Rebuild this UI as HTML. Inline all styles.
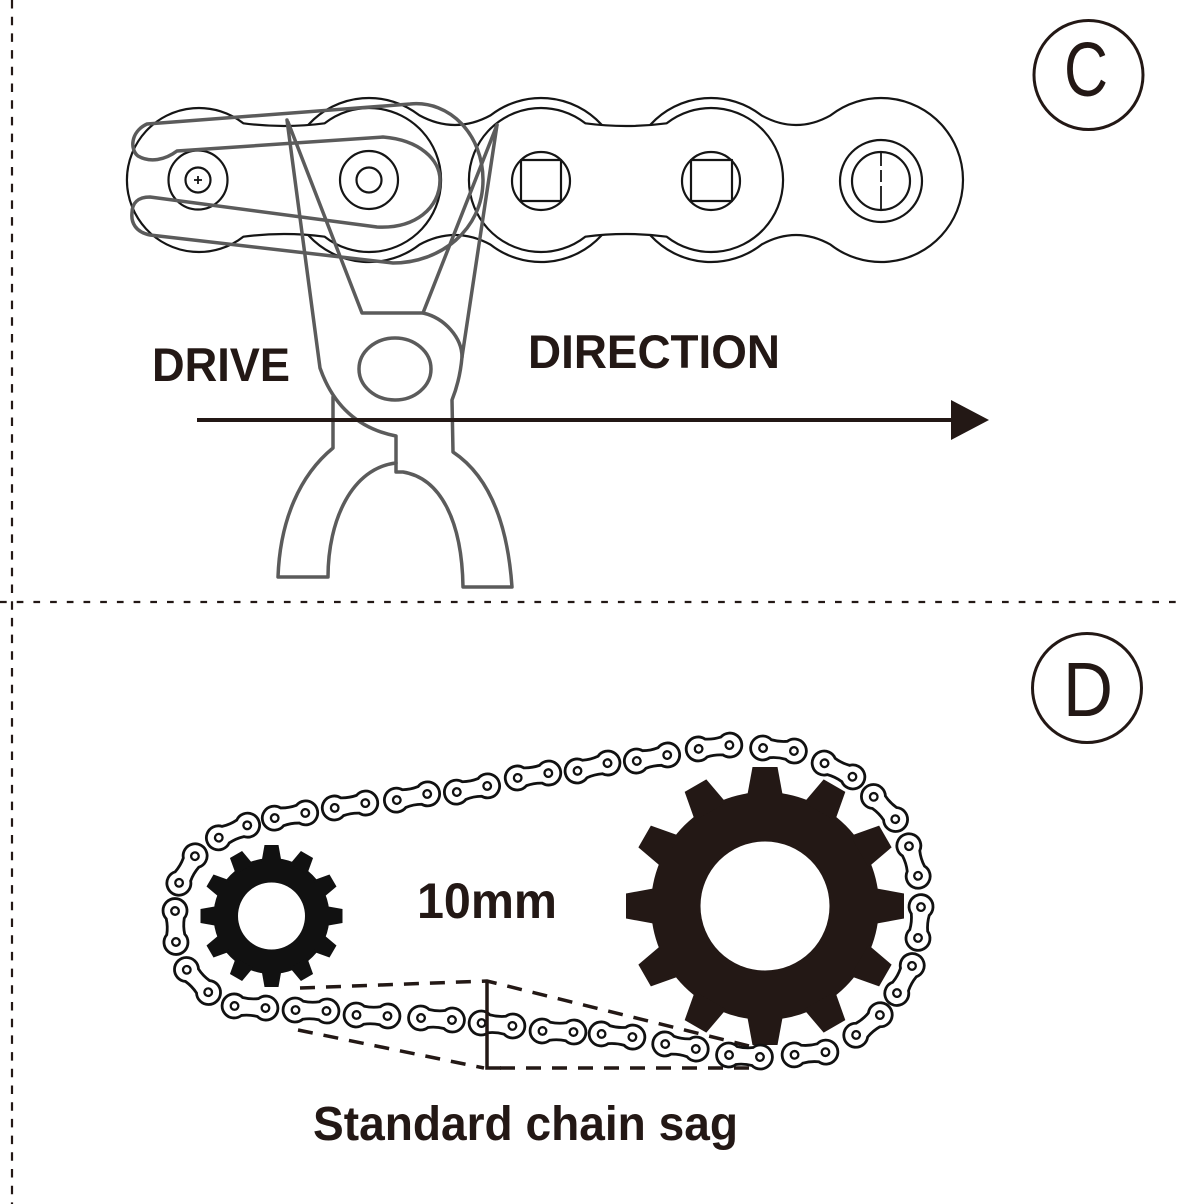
<!DOCTYPE html>
<html>
<head>
<meta charset="utf-8">
<style>
  html,body{margin:0;padding:0;background:#fff;}
  svg{display:block;}
  .t{font-family:"Liberation Sans", Arial, sans-serif;fill:#231815;}
</style>
</head>
<body>
<svg width="1182" height="1204" viewBox="0 0 1182 1204" xmlns="http://www.w3.org/2000/svg">
  <rect width="1182" height="1204" fill="#fff"/>

  <!-- dashed separators -->
  <line x1="12" y1="0" x2="12" y2="1204" stroke="#231815" stroke-width="2.2" stroke-dasharray="8.5 8.2"/>
  <line x1="0" y1="602" x2="1182" y2="602" stroke="#231815" stroke-width="2.2" stroke-dasharray="6.7 10"/>

  <!-- C label -->
  <circle cx="1088.5" cy="75" r="54.5" fill="none" stroke="#231815" stroke-width="3"/>
  <text class="t" x="1064" y="96" font-size="77" textLength="44" lengthAdjust="spacingAndGlyphs">C</text>

  <!-- D label -->
  <circle cx="1087" cy="688" r="54.5" fill="none" stroke="#231815" stroke-width="3"/>
  <text class="t" x="1063" y="716" font-size="77" textLength="50" lengthAdjust="spacingAndGlyphs">D</text>

  <!-- ===== Section C: chain ===== -->
  <g stroke="#151515" stroke-width="2.2" fill="#fff" stroke-linejoin="round">
    <!-- outer plates (drawn first) -->
    <path d="M419.5,115.4 Q455,134.6 490.5,115.4 A82,82 0 1 1 490.5,244.6 Q455,225.4 419.5,244.6 A82,82 0 1 1 419.5,115.4 Z"/>
    <path d="M761.5,115.4 Q796,134.6 830.5,115.4 A82,82 0 1 1 830.5,244.6 Q796,225.4 761.5,244.6 A82,82 0 1 1 761.5,115.4 Z"/>
    <!-- inner plates on top -->
    <path d="M243.3,123.3 Q284,128.7 324.7,123.3 A72,72 0 1 1 324.7,236.7 Q284,231.3 243.3,236.7 A72,72 0 1 1 243.3,123.3 Z"/>
    <path d="M585.3,123.3 Q626,128.7 666.7,123.3 A72,72 0 1 1 666.7,236.7 Q626,231.3 585.3,236.7 A72,72 0 1 1 585.3,123.3 Z"/>
    <!-- rollers -->
    <circle cx="198" cy="180" r="29.5"/>
    <circle cx="198" cy="180" r="12.5"/>
    <circle cx="369" cy="180" r="29"/>
    <circle cx="369" cy="180" r="12.5"/>
    <circle cx="541" cy="181" r="29"/>
    <rect x="521" y="160" width="40" height="41"/>
    <circle cx="711" cy="181" r="29"/>
    <rect x="691" y="160" width="41" height="41"/>
    <circle cx="881" cy="181" r="41"/>
    <circle cx="881" cy="181" r="29"/>
  </g>
  <g stroke="#151515" stroke-width="1.8" fill="none">
    <line x1="194" y1="180" x2="202" y2="180"/>
    <line x1="198" y1="176" x2="198" y2="184"/>
    <line x1="881" y1="151" x2="881" y2="211" stroke-dasharray="15 4 12 4 30"/>
  </g>

  <!-- clip + pliers (gray) -->
  <g stroke="#5b5b5b" stroke-width="3.5" fill="none" stroke-linejoin="round" stroke-linecap="round">
    <path d="M147,124 L410,104 C450,100 483,135 483,180 C483,230 440,263 393,263 L150,235 C135,232 131,222 132,213 C132,203 138,197 150,197 L377,227 C415,229 440,208 440,180 C440,160 420,140 383,137 L177,151 C165,160 150,163 138,156 C130,150 130,132 147,124 Z"/>
    <path d="M287,120 L320,368 Q340,425 396,436 L396,472 L403,472 C440,478 462,520 463,587 L512,587 C508,530 492,478 453,452 L452,400 Q460,380 462,357 L497,125"/>
    <path d="M288,122 L362,313 L423,313 C445,318 462,338 462,357"/>
    <path d="M497,125 L423,313"/>
    <path d="M333,397 L333,448 C300,475 280,520 278,577 L328,577 C328,520 352,468 396,463"/>
    <ellipse cx="395" cy="369" rx="36" ry="31"/>
  </g>

  <!-- arrow -->
  <line x1="197" y1="420" x2="956" y2="420" stroke="#231815" stroke-width="4"/>
  <polygon points="951,400 989,420 951,440" fill="#231815"/>

  <text class="t" x="152" y="381" font-size="47" font-weight="bold" textLength="138" lengthAdjust="spacingAndGlyphs">DRIVE</text>
  <text class="t" x="528" y="368" font-size="47" font-weight="bold" textLength="252" lengthAdjust="spacingAndGlyphs">DIRECTION</text>

  <!-- ===== Section D ===== -->
  <!-- small gear -->
  <g fill="#111">
    <circle cx="271.5" cy="916" r="58"/>
    <polygon points="261.5,862 264.5,845 278.5,845 281.5,862"/>
    <polygon points="261.5,862 264.5,845 278.5,845 281.5,862" transform="rotate(30 271.5 916)"/>
    <polygon points="261.5,862 264.5,845 278.5,845 281.5,862" transform="rotate(60 271.5 916)"/>
    <polygon points="261.5,862 264.5,845 278.5,845 281.5,862" transform="rotate(90 271.5 916)"/>
    <polygon points="261.5,862 264.5,845 278.5,845 281.5,862" transform="rotate(120 271.5 916)"/>
    <polygon points="261.5,862 264.5,845 278.5,845 281.5,862" transform="rotate(150 271.5 916)"/>
    <polygon points="261.5,862 264.5,845 278.5,845 281.5,862" transform="rotate(180 271.5 916)"/>
    <polygon points="261.5,862 264.5,845 278.5,845 281.5,862" transform="rotate(210 271.5 916)"/>
    <polygon points="261.5,862 264.5,845 278.5,845 281.5,862" transform="rotate(240 271.5 916)"/>
    <polygon points="261.5,862 264.5,845 278.5,845 281.5,862" transform="rotate(270 271.5 916)"/>
    <polygon points="261.5,862 264.5,845 278.5,845 281.5,862" transform="rotate(300 271.5 916)"/>
    <polygon points="261.5,862 264.5,845 278.5,845 281.5,862" transform="rotate(330 271.5 916)"/>
  </g>
  <circle cx="271.5" cy="916" r="33.5" fill="#fff"/>

  <!-- big gear -->
  <g fill="#231815">
    <circle cx="765" cy="906" r="114"/>
    <polygon points="747,797 752.5,767 777.5,767 783,797"/>
    <polygon points="747,797 752.5,767 777.5,767 783,797" transform="rotate(30 765 906)"/>
    <polygon points="747,797 752.5,767 777.5,767 783,797" transform="rotate(60 765 906)"/>
    <polygon points="747,797 752.5,767 777.5,767 783,797" transform="rotate(90 765 906)"/>
    <polygon points="747,797 752.5,767 777.5,767 783,797" transform="rotate(120 765 906)"/>
    <polygon points="747,797 752.5,767 777.5,767 783,797" transform="rotate(150 765 906)"/>
    <polygon points="747,797 752.5,767 777.5,767 783,797" transform="rotate(180 765 906)"/>
    <polygon points="747,797 752.5,767 777.5,767 783,797" transform="rotate(210 765 906)"/>
    <polygon points="747,797 752.5,767 777.5,767 783,797" transform="rotate(240 765 906)"/>
    <polygon points="747,797 752.5,767 777.5,767 783,797" transform="rotate(270 765 906)"/>
    <polygon points="747,797 752.5,767 777.5,767 783,797" transform="rotate(300 765 906)"/>
    <polygon points="747,797 752.5,767 777.5,767 783,797" transform="rotate(330 765 906)"/>
  </g>
  <circle cx="765" cy="906" r="64.5" fill="#fff"/>

  <!-- sag dashed lines -->
  <g stroke="#231815" stroke-width="3.5" fill="none" stroke-dasharray="15 11">
    <path d="M300,988 L487,981 L757,1048"/>
    <path d="M298,1030 L484,1068"/>
    <path d="M500,1068 L760,1068"/>
  </g>

  <!-- chain links -->
  <defs>
    <g id="lk">
      <path d="M-8,-9 Q0,-7.5 8,-9 A12,12 0 1 1 8,9 Q0,7.5 -8,9 A12,12 0 1 1 -8,-9 Z" fill="#fff" stroke="#111" stroke-width="2.8"/>
      <circle cx="-15.5" cy="0" r="3.8" fill="#fff" stroke="#111" stroke-width="2.3"/>
      <circle cx="15.5" cy="0" r="3.8" fill="#fff" stroke="#111" stroke-width="2.3"/>
    </g>
  </defs>
  <use href="#lk" transform="translate(714,747) rotate(-7)"/>
  <use href="#lk" transform="translate(778.5,749.5) rotate(5.5)"/>
  <use href="#lk" transform="translate(838.5,770) rotate(25.8)"/>
  <use href="#lk" transform="translate(884.5,808) rotate(46)"/>
  <use href="#lk" transform="translate(913.5,861) rotate(73)"/>
  <use href="#lk" transform="translate(919.5,922.5) rotate(95.5)"/>
  <use href="#lk" transform="translate(904.5,979.5) rotate(119)"/>
  <use href="#lk" transform="translate(868,1025) rotate(140)"/>
  <use href="#lk" transform="translate(810,1053.5) rotate(-5)"/>
  <use href="#lk" transform="translate(744.5,1056) rotate(3.7)"/>
  <use href="#lk" transform="translate(680.5,1046.5) rotate(9.2)"/>
  <use href="#lk" transform="translate(617,1035.5) rotate(5.7)"/>
  <use href="#lk" transform="translate(558,1031.5) rotate(1.9)"/>
  <use href="#lk" transform="translate(497,1024.5) rotate(5.4)"/>
  <use href="#lk" transform="translate(436.5,1019) rotate(3.7)"/>
  <use href="#lk" transform="translate(372,1015.5) rotate(1.9)"/>
  <use href="#lk" transform="translate(311,1010.5) rotate(1.8)"/>
  <use href="#lk" transform="translate(250,1007) rotate(3.8)"/>
  <use href="#lk" transform="translate(197.5,981) rotate(46.3)"/>
  <use href="#lk" transform="translate(175.5,926.5) rotate(88.3)"/>
  <use href="#lk" transform="translate(187,869.5) rotate(-59.3)"/>
  <use href="#lk" transform="translate(233,831.5) rotate(-23.4)"/>
  <use href="#lk" transform="translate(290,815.5) rotate(-9.5)"/>
  <use href="#lk" transform="translate(350,805.5) rotate(-8.9)"/>
  <use href="#lk" transform="translate(412,797) rotate(-11.3)"/>
  <use href="#lk" transform="translate(472,789) rotate(-11.3)"/>
  <use href="#lk" transform="translate(533,775.5) rotate(-8.9)"/>
  <use href="#lk" transform="translate(592.5,767) rotate(-14.5)"/>
  <use href="#lk" transform="translate(652,758) rotate(-11)"/>

  <!-- vertical sag marker -->
  <path d="M487,982 L487,1068 L501,1068" stroke="#231815" stroke-width="3.5" fill="none"/>

  <text class="t" x="417" y="918" font-size="50" font-weight="bold" textLength="140" lengthAdjust="spacingAndGlyphs">10mm</text>
  <text class="t" x="313" y="1140" font-size="48" font-weight="bold" textLength="425" lengthAdjust="spacingAndGlyphs">Standard chain sag</text>
</svg>
</body>
</html>
